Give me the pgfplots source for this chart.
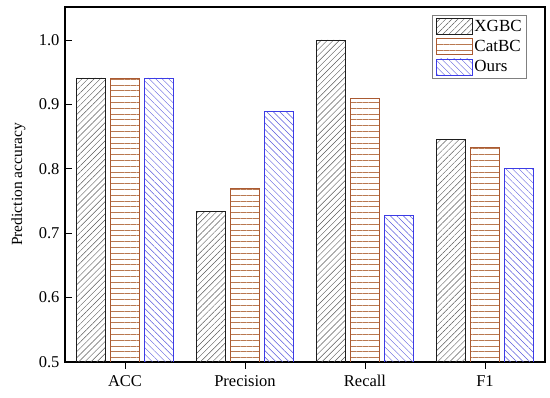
\documentclass[border=0pt]{standalone}
\usepackage{fontspec}
\setmainfont{Liberation Serif}
\usepackage{pgfplots}
\pgfplotsset{compat=1.18}
\usetikzlibrary{patterns.meta}
\definecolor{xgc}{RGB}{30,30,30}
\definecolor{xgh}{RGB}{90,90,90}
\definecolor{cbc}{RGB}{170,90,50}
\definecolor{cbh}{RGB}{185,120,80}
\definecolor{ouc}{RGB}{60,60,230}
\definecolor{ouh}{RGB}{90,90,220}
\begin{document}
\begin{tikzpicture}
\path[use as bounding box] (-65pt,-36pt) rectangle (485pt,362pt);
\begin{axis}[
  at={(0,0)}, anchor=south west,
  scale only axis, width=480pt, height=355pt,
  xmin=-0.5, xmax=3.5, ymin=0.5, ymax=1.0512,
  xtick={0,1,2,3}, xticklabels={ACC,Precision,Recall,F1},
  ytick={0.5,0.6,0.7,0.8,0.9,1.0},
  yticklabel style={/pgf/number format/fixed, /pgf/number format/fixed zerofill, /pgf/number format/precision=1, xshift=-2pt},
  /pgf/number format/assume math mode=true,
  tick align=inside, xtick pos=bottom, ytick pos=left,
  major tick length=7pt, tick style={line width=0.9pt, black},
  axis line style={line width=1.1pt},
  ticklabel style={font=\fontsize{16.5}{18}\selectfont},
  ylabel={Prediction accuracy},
  ylabel style={font=\fontsize{15.5}{17}\selectfont, at={(axis description cs:0,0.5)}, anchor=south, yshift=36pt},
  xticklabel style={yshift=-3pt},
  ybar, bar width=0.237, bar shift=0pt,
  legend style={at={(0.9625,0.978)}, anchor=north east, draw=gray, line width=0.6pt,
    font=\fontsize{17}{19}\selectfont, row sep=3.5pt, inner xsep=3pt, inner ysep=3pt},
  legend cell align=left,
  legend image code/.code={\draw[#1, line width=0.7pt] (0pt,-8pt) rectangle (36pt,8pt);},
]
\addplot[draw=xgc, line width=0.9pt, pattern={Lines[angle=45,distance=4.3pt,line width=0.45pt]}, pattern color=xgh]
  coordinates {(-0.283,0.941) (0.717,0.733) (1.717,1.000) (2.717,0.846)};
\addlegendentry{XGBC}
\addplot[draw=cbc, line width=0.9pt, pattern={Lines[angle=0,distance=5.8pt,line width=0.5pt]}, pattern color=cbh]
  coordinates {(0,0.941) (1,0.769) (2,0.909) (3,0.833)};
\addlegendentry{CatBC}
\addplot[draw=ouc, line width=0.9pt, pattern={Lines[angle=-45,distance=4.6pt,line width=0.45pt]}, pattern color=ouh]
  coordinates {(0.283,0.941) (1.283,0.889) (2.283,0.727) (3.283,0.800)};
\addlegendentry{Ours}
\end{axis}
\end{tikzpicture}
\end{document}
